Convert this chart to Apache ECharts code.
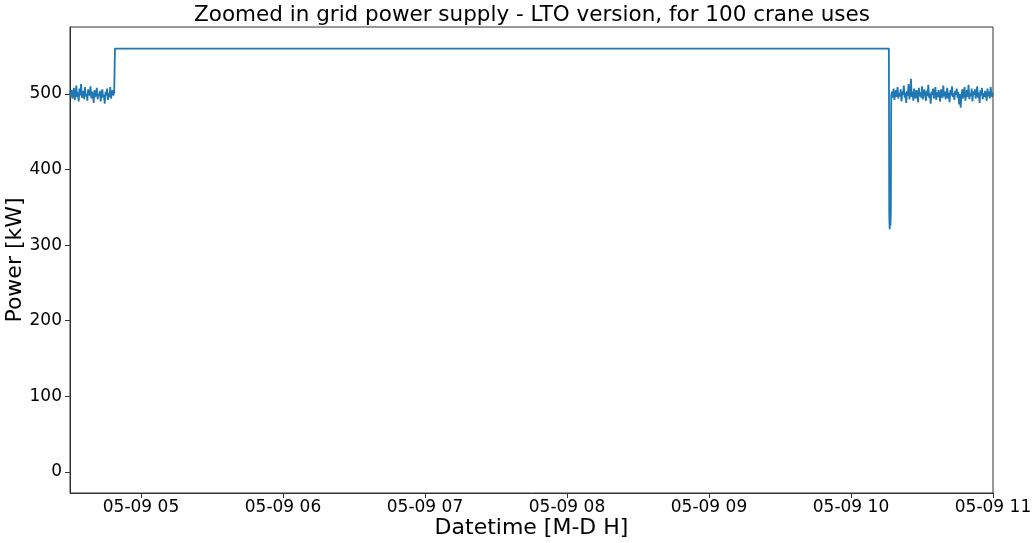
<!DOCTYPE html>
<html>
<head>
<meta charset="utf-8">
<title>Grid power supply</title>
<script src="https://cdn.jsdelivr.net/npm/echarts@6/dist/echarts.min.js"></script>
<style>
  html, body { margin: 0; padding: 0; background: #fff; }
  #chart { width: 1033px; height: 543px; }
</style>
</head>
<body>
<div id="chart"></div>
<script>
// Grid power samples (kW), logged every 20 s before and after the charging plateau
const sampleStepSec = 20;
const preStart = Date.UTC(2023, 4, 9, 4, 30, 0);
const preNoise = [
  503, 497, 505, 494, 500, 508, 492, 499, 511, 496,
  502, 490, 507, 498, 513, 495, 501, 504, 493, 509,
  497, 500, 491, 506, 502, 498, 510, 494, 503, 499,
  488, 505, 496, 501, 508, 493, 500, 497, 504, 490,
  502, 506, 495, 499, 487, 503, 498, 507, 492, 501,
  496, 509, 494, 500, 505, 498, 502
];

// Plateau: grid supply held at the limit
const plateauStart = Date.UTC(2023, 4, 9, 4, 49, 0);
const plateauEnd = Date.UTC(2023, 4, 9, 10, 16, 0);
const plateauValue = 560;

// Short dip when the plateau ends (10 s samples)
const dipStart = Date.UTC(2023, 4, 9, 10, 16, 10);
const dipValues = [340, 321, 333, 326, 345];

const postStart = Date.UTC(2023, 4, 9, 10, 17, 0);
const postNoise = [
  498, 503, 495, 507, 492, 500, 505, 496, 509, 494,
  501, 497, 506, 490, 503, 499, 511, 495, 502, 488,
  504, 498, 513, 493, 500, 520, 496, 503, 491, 507,
  499, 494, 505, 501, 489, 508, 497, 502, 495, 510,
  493, 500, 506, 498, 491, 504, 497, 512, 495, 501,
  487, 503, 499, 507, 494, 500, 509, 492, 502, 496,
  505, 498, 490, 506, 501, 495, 511, 497, 503, 493,
  500, 508, 494, 502, 489, 505, 498, 510, 496, 501,
  492, 504, 499, 507, 495, 503, 486, 500, 482, 497,
  506, 494, 502, 509, 491, 500, 505, 496, 512, 493,
  501, 497, 507, 490, 503, 499, 506, 494, 500, 510,
  495, 502, 488, 505, 498, 508, 493, 501, 496, 504,
  499, 491, 507, 497, 503, 494, 509, 500, 496, 502
];

// Axis ticks
const xTicks = [5, 6, 7, 8, 9, 10, 11].map(h => Date.UTC(2023, 4, 9, h, 0, 0));
const yTicks = [0, 100, 200, 300, 400, 500];
const xMin = Date.UTC(2023, 4, 9, 4, 30, 0);
const xMax = Date.UTC(2023, 4, 9, 11, 0, 0);

// Assemble the time series
const seriesData = [];
preNoise.forEach((v, i) => seriesData.push([preStart + i * sampleStepSec * 1000, v]));
seriesData.push([plateauStart, plateauValue]);
seriesData.push([plateauEnd, plateauValue]);
dipValues.forEach((v, i) => seriesData.push([dipStart + i * 10000, v]));
postNoise.forEach((v, i) => seriesData.push([postStart + i * sampleStepSec * 1000, v]));

const pad = n => String(n).padStart(2, '0');
const fmtTick = t => {
  const d = new Date(t);
  return pad(d.getUTCMonth() + 1) + '-' + pad(d.getUTCDate()) + ' ' + pad(d.getUTCHours());
};

const font = 'DejaVu Sans';
const chart = echarts.init(document.getElementById('chart'), null, { renderer: 'canvas' });
chart.setOption({
  animation: false,
  backgroundColor: '#ffffff',
  textStyle: { fontFamily: font, color: '#000' },
  graphic: [{
    type: 'text',
    x: 532,
    y: 15,
    style: {
      text: 'Zoomed in grid power supply - LTO version, for 100 crane uses',
      fontFamily: font,
      fontSize: 21.5,
      fill: '#000',
      align: 'center',
      verticalAlign: 'middle'
    }
  }],
  grid: {
    left: 70, right: 40, top: 27, bottom: 50,
    containLabel: false,
    outerBoundsMode: 'none',
    show: true, borderColor: '#333', borderWidth: 1, backgroundColor: 'transparent'
  },
  xAxis: {
    type: 'value',
    min: xMin,
    max: xMax,
    name: 'Datetime [M-D H]',
    nameLocation: 'middle',
    nameGap: 24,
    nameMoveOverlap: false,
    nameTextStyle: { fontFamily: font, fontSize: 22, color: '#000' },
    axisLine: { show: true, onZero: false, lineStyle: { color: '#333', width: 1 } },
    axisTick: { show: true, length: 5, lineStyle: { color: '#333' }, customValues: xTicks },
    axisLabel: {
      fontFamily: font, fontSize: 17, color: '#000', margin: 6,
      customValues: xTicks,
      formatter: v => fmtTick(v),
      showMinLabel: true, showMaxLabel: true, hideOverlap: false
    },
    splitLine: { show: false }
  },
  yAxis: {
    type: 'value',
    min: -28,
    max: 588.6,
    name: 'Power [kW]',
    nameLocation: 'middle',
    nameRotate: 90,
    nameGap: 44,
    nameMoveOverlap: false,
    nameTextStyle: { fontFamily: font, fontSize: 22, color: '#000' },
    axisLine: { show: true, onZero: false, lineStyle: { color: '#333', width: 1 } },
    axisTick: { show: true, length: 5, lineStyle: { color: '#333' }, customValues: yTicks },
    axisLabel: {
      fontFamily: font, fontSize: 17, color: '#000', margin: 8,
      customValues: yTicks
    },
    splitLine: { show: false }
  },
  series: [{
    type: 'line',
    data: seriesData,
    showSymbol: false,
    symbol: 'none',
    lineStyle: { color: '#1f77b4', width: 1.8 },
    itemStyle: { color: '#1f77b4' },
    emphasis: { disabled: true }
  }]
});
</script>
</body>
</html>
